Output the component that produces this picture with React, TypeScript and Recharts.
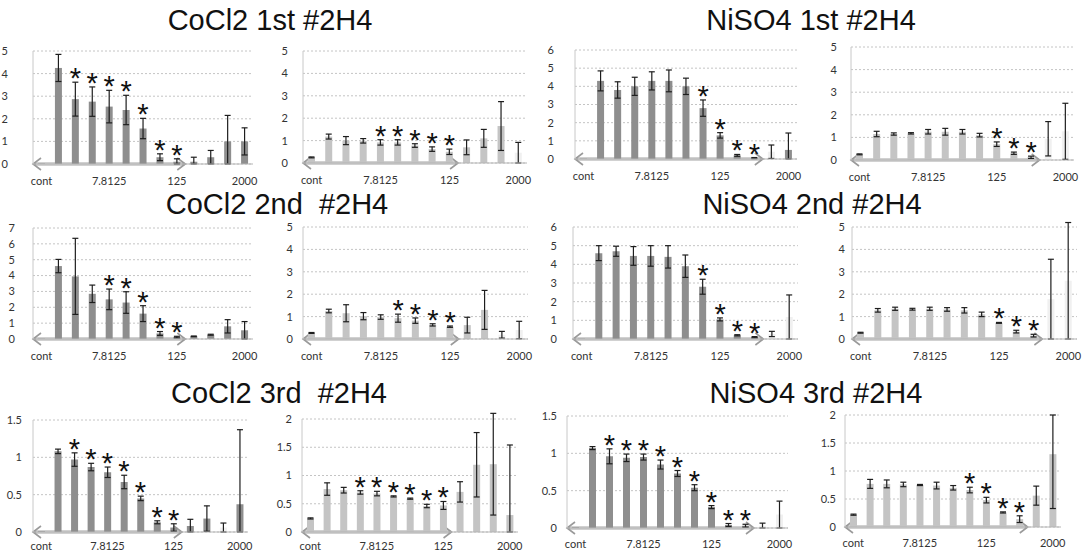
import React from 'react';
import { ComposedChart, Bar, ErrorBar, Scatter, XAxis, YAxis, CartesianGrid, ReferenceArea, Cell } from 'recharts';

type Err = number | [number, number];

const categories = ['cont', '0.9765625', '1.953125', '3.90625', '7.8125', '15.625', '31.25', '62.5', '125', '250', '500', '1000', '2000'];

const ticks15 = [0, 0.5, 1, 1.5];
const ticks2 = [0, 0.5, 1, 1.5, 2];
const ticks5 = [0, 1, 2, 3, 4, 5];
const ticks6 = [0, 1, 2, 3, 4, 5, 6];
const ticks7 = [0, 1, 2, 3, 4, 5, 6, 7];

// CoCl2 1st
const co1aValues = [0.02, 4.25, 2.87, 2.76, 2.54, 2.39, 1.57, 0.3, 0.1, 0.1, 0.3, 1.0, 1.0];
const co1aErrors: Err[] = [0, 0.6, 0.75, 0.65, 0.72, 0.65, 0.45, 0.15, [0.1, 0.13], [0.1, 0.2], 0.3, [1.0, 1.15], 0.6];
const co1aStars = [2, 3, 4, 5, 6, 7, 8];
const co1aFaint: number[] = [];
const co1bValues = [0.25, 1.18, 1.0, 0.99, 0.92, 0.92, 0.78, 0.62, 0.5, 0.7, 1.1, 1.65, 0.46];
const co1bErrors: Err[] = [0.02, 0.11, 0.18, 0.1, 0.12, 0.12, 0.08, 0.1, 0.12, 0.33, 0.4, 1.09, 0.46];
const co1bStars = [4, 5, 6, 7, 8];
const co1bFaint = [12];

// NiSO4 1st
const ni1aValues = [0.02, 4.3, 3.8, 4.0, 4.3, 4.3, 4.0, 2.8, 1.3, 0.2, 0.05, 0.4, 0.5];
const ni1aErrors: Err[] = [0, 0.55, 0.45, 0.5, 0.5, 0.6, 0.45, 0.45, 0.15, 0.05, 0.03, 0.37, [0.5, 0.93]];
const ni1aStars = [7, 8, 9, 10];
const ni1aFaint = [11];
const ni1bValues = [0.25, 1.15, 1.15, 1.18, 1.25, 1.25, 1.25, 1.1, 0.7, 0.3, 0.12, 0.94, 1.27];
const ni1bErrors: Err[] = [0.02, 0.12, 0.05, 0.03, 0.1, 0.15, 0.1, 0.08, 0.1, 0.05, 0.05, 0.76, 1.24];
const ni1bStars = [8, 9, 10];
const ni1bFaint = [11, 12];

// CoCl2 2nd
const co2aValues = [0.02, 4.6, 3.95, 2.85, 2.5, 2.3, 1.6, 0.35, 0.12, 0.17, 0.27, 0.8, 0.55];
const co2aErrors: Err[] = [0, 0.42, 2.4, 0.55, 0.65, 0.68, 0.5, 0.12, 0.05, 0.02, 0.03, 0.42, 0.55];
const co2aStars = [4, 5, 6, 7, 8];
const co2aFaint: number[] = [];
const co2bValues = [0.27, 1.25, 1.15, 1.02, 0.98, 0.93, 0.82, 0.63, 0.55, 0.62, 1.3, 0.19, 0.4];
const co2bErrors: Err[] = [0.02, 0.08, 0.38, 0.16, 0.1, 0.18, 0.12, 0.05, 0.03, 0.35, 0.87, 0.15, 0.39];
const co2bStars = [5, 6, 7, 8];
const co2bFaint = [11, 12];

// NiSO4 2nd
const ni2aValues = [0.02, 4.6, 4.7, 4.45, 4.45, 4.4, 3.9, 2.8, 1.05, 0.2, 0.1, 0.27, 1.18];
const ni2aErrors: Err[] = [0, 0.4, 0.27, 0.5, 0.55, 0.6, 0.6, 0.4, 0.08, 0.03, 0.03, 0.14, 1.18];
const ni2aStars = [7, 8, 9, 10];
const ni2aFaint = [11, 12];
const ni2bValues = [0.28, 1.28, 1.35, 1.33, 1.35, 1.32, 1.28, 1.1, 0.72, 0.33, 0.15, 1.78, 2.6];
const ni2bErrors: Err[] = [0.02, 0.08, 0.07, 0.04, 0.07, 0.08, 0.12, 0.1, 0.02, 0.06, 0.06, 1.78, 2.6];
const ni2bStars = [8, 9, 10];
const ni2bFaint = [11, 12];

// CoCl2 3rd
const co3aValues = [0.01, 1.08, 0.97, 0.87, 0.8, 0.67, 0.45, 0.13, 0.06, 0.08, 0.18, 0.06, 0.37];
const co3aErrors: Err[] = [0, 0.03, 0.09, 0.05, 0.07, 0.09, 0.03, 0.02, 0.05, [0.08, 0.09], 0.17, 0.06, [0.37, 1.0]];
const co3aStars = [2, 3, 4, 5, 6, 7, 8];
const co3aFaint = [11];
const co3bValues = [0.24, 0.76, 0.74, 0.7, 0.68, 0.63, 0.59, 0.46, 0.47, 0.71, 1.19, 1.2, 0.3];
const co3bErrors: Err[] = [0.01, 0.11, 0.05, 0.03, 0.04, 0.01, 0.01, 0.03, 0.07, 0.18, 0.57, 0.9, [0.3, 1.24]];
const co3bStars = [3, 4, 5, 6, 7, 8];
const co3bFaint: number[] = [];

// NiSO4 3rd
const ni3aValues = [0.01, 1.07, 0.96, 0.94, 0.95, 0.85, 0.73, 0.54, 0.28, 0.04, 0.03, 0.03, 0.18];
const ni3aErrors: Err[] = [0, 0.02, 0.1, 0.05, 0.04, 0.06, 0.04, 0.04, 0.02, 0.02, 0.02, [0.03, 0.035], 0.18];
const ni3aStars = [2, 3, 4, 5, 6, 7, 8, 9, 10];
const ni3aFaint = [11, 12];
const ni3bValues = [0.22, 0.77, 0.77, 0.76, 0.75, 0.74, 0.7, 0.66, 0.48, 0.26, 0.14, 0.56, 1.3];
const ni3bErrors: Err[] = [0.01, 0.08, 0.07, 0.04, 0.01, 0.06, 0.04, 0.05, 0.05, 0.01, 0.06, 0.17, [0.97, 0.7]];
const ni3bStars = [7, 8, 9, 10];
const ni3bFaint: number[] = [];

const titles = [
  { text: 'CoCl2 1st #2H4', cx: 270, base: 30 },
  { text: 'NiSO4 1st #2H4', cx: 811, base: 30 },
  { text: 'CoCl2 2nd  #2H4', cx: 277, base: 214 },
  { text: 'NiSO4 2nd #2H4', cx: 812, base: 214 },
  { text: 'CoCl2 3rd  #2H4', cx: 279, base: 403 },
  { text: 'NiSO4 3rd #2H4', cx: 816, base: 403 },
];

// plot-area boxes (left, top, right, bottom), y-label gap, x-label gap
const panels = [
  { values: co1aValues, errors: co1aErrors, stars: co1aStars, faint: co1aFaint, ticks: ticks5, dark: true, arrowTo: '125', L: 33, T: 51, R: 253, B: 164, gap: 25, xGap: 13 },
  { values: co1bValues, errors: co1bErrors, stars: co1bStars, faint: co1bFaint, ticks: ticks5, dark: false, arrowTo: '125', L: 303, T: 51, R: 527, B: 163, gap: 15, xGap: 13 },
  { values: ni1aValues, errors: ni1aErrors, stars: ni1aStars, faint: ni1aFaint, ticks: ticks6, dark: true, arrowTo: '500', L: 575, T: 50, R: 797, B: 159, gap: 21, xGap: 13 },
  { values: ni1bValues, errors: ni1bErrors, stars: ni1bStars, faint: ni1bFaint, ticks: ticks5, dark: false, arrowTo: '500', L: 851, T: 47, R: 1074, B: 160, gap: 14, xGap: 13 },
  { values: co2aValues, errors: co2aErrors, stars: co2aStars, faint: co2aFaint, ticks: ticks7, dark: true, arrowTo: '125', L: 33, T: 228, R: 253, B: 339, gap: 18, xGap: 13 },
  { values: co2bValues, errors: co2bErrors, stars: co2bStars, faint: co2bFaint, ticks: ticks5, dark: false, arrowTo: '125', L: 303, T: 227, R: 528, B: 339, gap: 10, xGap: 13 },
  { values: ni2aValues, errors: ni2aErrors, stars: ni2aStars, faint: ni2aFaint, ticks: ticks6, dark: true, arrowTo: '500', L: 573, T: 227, R: 798, B: 339, gap: 16, xGap: 13 },
  { values: ni2bValues, errors: ni2bErrors, stars: ni2bStars, faint: ni2bFaint, ticks: ticks5, dark: false, arrowTo: '500', L: 852, T: 227, R: 1077, B: 339, gap: 7, xGap: 13 },
  { values: co3aValues, errors: co3aErrors, stars: co3aStars, faint: co3aFaint, ticks: ticks15, dark: true, arrowTo: '125', L: 33, T: 420, R: 248, B: 532, gap: 11, xGap: 10 },
  { values: co3bValues, errors: co3bErrors, stars: co3bStars, faint: co3bFaint, ticks: ticks2, dark: false, arrowTo: '125', L: 302, T: 419, R: 518, B: 532, gap: 10, xGap: 10 },
  { values: ni3aValues, errors: ni3aErrors, stars: ni3aStars, faint: ni3aFaint, ticks: ticks15, dark: true, arrowTo: '500', L: 567, T: 416, R: 788, B: 528, gap: 10, xGap: 12 },
  { values: ni3bValues, errors: ni3bErrors, stars: ni3bStars, faint: ni3bFaint, ticks: ticks2, dark: false, arrowTo: '500', L: 845, T: 415, R: 1061, B: 527, gap: 9, xGap: 12 },
];

const tickFont = { fontFamily: 'Lato, "Open Sans", sans-serif', fontSize: 11, fill: '#333' };

const StarMark = (props: any) => {
  const { cx, cy, payload } = props;
  if (payload?.s == null || !Number.isFinite(cx) || !Number.isFinite(cy)) return <g />;
  return (
    <text x={cx} y={cy + 6} textAnchor="middle" fontFamily="'Liberation Sans', Arial, sans-serif" fontSize={29} fill="#111">
      *
    </text>
  );
};

// grey double-headed arrow lying on the x axis
const AxisArrow = (props: any) => {
  const { x, y, width, height } = props;
  const yb = y + height;
  const x0 = x;
  const x1 = x + width;
  return (
    <g>
      <line x1={x0 + 1} y1={yb} x2={x1 - 1} y2={yb} stroke="#a3a3a3" strokeWidth={3} />
      <line x1={x0 + 3} y1={yb} x2={x1 - 3} y2={yb} stroke="#f4f4f4" strokeWidth={1} />
      <polyline points={`${x0 + 8},${yb - 6} ${x0},${yb} ${x0 + 8},${yb + 6}`} fill="none" stroke="#9a9a9a" strokeWidth={1.6} />
      <polyline points={`${x1 - 8},${yb - 6} ${x1},${yb} ${x1 - 8},${yb + 6}`} fill="none" stroke="#9a9a9a" strokeWidth={1.6} />
    </g>
  );
};

const high = (e: Err) => (Array.isArray(e) ? e[1] : e);

const TOP_PAD = 9;
const X_AXIS_H = 26;

function Panel({ p }: { p: (typeof panels)[number] }) {
  const yw = Math.min(p.L, 40);
  const width = p.R - p.L + yw + 5;
  const height = Math.min(p.B - p.T + TOP_PAD + X_AXIS_H, 552 - (p.T - TOP_PAD));
  const xAxisH = height - (p.B - p.T + TOP_PAD);
  const yMax = p.ticks[p.ticks.length - 1];
  const rows = categories.map((c, i) => ({
    c,
    v: p.values[i],
    e: p.errors[i],
    s: p.stars.includes(i) ? p.values[i] + high(p.errors[i]) : null,
  }));
  const fill = p.dark ? '#8e8e8e' : '#c4c4c4';

  return (
    <div style={{ position: 'absolute', left: p.L - yw, top: p.T - TOP_PAD }}>
      <ComposedChart width={width} height={height} data={rows} margin={{ top: TOP_PAD, right: 5, bottom: 0, left: 0 }}>
        <CartesianGrid vertical={false} stroke="#c4c4c4" strokeDasharray="2 2" />
        <XAxis
          dataKey="c"
          interval={3}
          height={xAxisH}
          tickLine={false}
          tickSize={0}
          tickMargin={p.xGap}
          axisLine={{ stroke: '#b5b5b5' }}
          tick={tickFont}
        />
        <YAxis
          type="number"
          domain={[0, yMax]}
          ticks={p.ticks}
          interval={0}
          allowDataOverflow
          width={yw}
          tickLine={false}
          tickSize={0}
          tickMargin={p.gap}
          axisLine={{ stroke: '#c8c8c8' }}
          tick={tickFont}
        />
        <ReferenceArea x1="cont" x2={p.arrowTo} shape={AxisArrow} ifOverflow="visible" />
        <Bar dataKey="v" barSize={7} fill={fill} isAnimationActive={false}>
          {rows.map((_, i) => (
            <Cell key={`cell-${i}`} fill={p.faint.includes(i) ? '#f0f0f0' : fill} />
          ))}
          <ErrorBar dataKey="e" width={3} stroke="#1e1e1e" strokeWidth={1.2} />
        </Bar>
        <Scatter dataKey="s" shape={StarMark} isAnimationActive={false} />
      </ComposedChart>
    </div>
  );
}

export default function App() {
  return (
    <div style={{ position: 'absolute', left: 0, top: 0, width: 1083, height: 552, background: '#fff', overflow: 'hidden' }}>
      {panels.map((p, i) => (
        <Panel key={i} p={p} />
      ))}
      {titles.map((t) => (
        <div
          key={t.text}
          style={{
            position: 'absolute',
            left: t.cx - 160,
            top: t.base - 20,
            width: 320,
            textAlign: 'center',
            whiteSpace: 'pre',
            fontFamily: "'Liberation Sans', Arial, sans-serif",
            fontSize: 29,
            lineHeight: '20px',
            color: '#111',
          }}
        >
          {t.text}
        </div>
      ))}
    </div>
  );
}
